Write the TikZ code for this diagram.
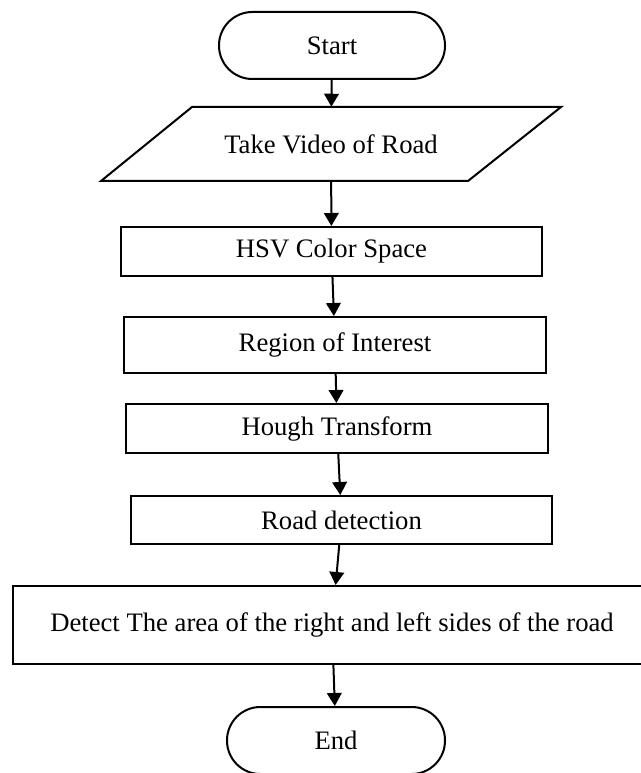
\documentclass[tikz,border=0pt]{standalone}
\usepackage{fontspec}
\setmainfont{Liberation Serif}
\usetikzlibrary{arrows.meta}
\begin{document}
\begin{tikzpicture}[x=0.75pt, y=-0.75pt,
	font=\fontsize{20}{24}\selectfont,
	every node/.style={inner sep=0pt},
	box/.style={draw, line width=1.5pt, rectangle},
	term/.style={draw, line width=1.5pt, rectangle, rounded corners=25pt, minimum height=50.25pt},
	arr/.style={-{Triangle[length=9.75pt, width=11pt]}, line width=1.5pt}]
	  \useasboundingbox (0,0) rectangle (640,773);
	  %\draw[lightgray] (0,0) rectangle (640,773);
	  \node[term, minimum width=169.5pt] (start) at (332,45.5) {Start};
	  \node[minimum width=276pt, minimum height=55.5pt] (video) at (331,144) {Take Video of Road};
	  \draw[line width=1.5pt, line join=miter] (101,181) -- (192,107) -- (561,107) -- (468,181) -- cycle;
	  \node[box, minimum width=315.75pt, minimum height=36.75pt] (hsv) at (331.5,251.5) {HSV Color Space};
	  \node[box, minimum width=316.5pt, minimum height=42pt] (roi) at (335,345) {Region of Interest};
	  \node[box, minimum width=316.5pt, minimum height=36.75pt] (hough) at (337,428.5) {Hough Transform};
	  \node[box, minimum width=315.75pt, minimum height=36pt] (road) at (341.5,520) {Road detection};
	  \node[box, minimum width=478.5pt, minimum height=58.5pt] (sides) at (332,625) {Detect The area of the right and left sides of the road};
	  \node[term, minimum width=163.5pt] (end) at (336,740.5) {End};
	  \draw[arr] (start) -- (video);
	  \draw[arr] (video) -- (hsv);
	  \draw[arr] (hsv) -- (roi);
	  \draw[arr] (roi) -- (hough);
	  \draw[arr] (hough) -- (road);
	  \draw[arr] (road) -- (sides);
	  \draw[arr] (sides) -- (end);
	\end{tikzpicture}
\end{document}
